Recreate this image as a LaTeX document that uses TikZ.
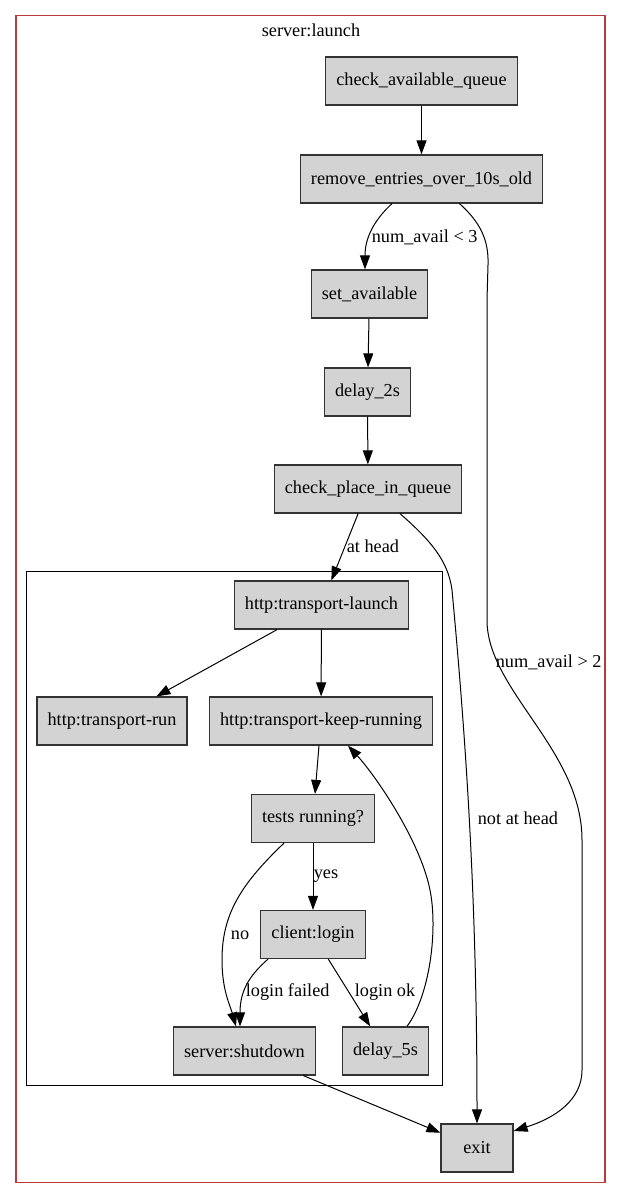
\documentclass[tikz,border=0pt]{standalone}
\usepackage{fontspec}
\setmainfont{Liberation Serif}
\usetikzlibrary{calc, arrows.meta}
\definecolor{boxgray}{RGB}{211,211,211}
\definecolor{clusterred}{RGB}{185,60,60}

\begin{document}
\begin{tikzpicture}[x=0.75pt, y=-0.75pt, >={Triangle[length=10.5pt, width=7.5pt]},
		state/.style={draw=black!80, fill=boxgray, rectangle, line width=0.9pt, minimum width=54pt, minimum height=36pt, inner xsep=8pt, font=\fontsize{13.7}{16}\selectfont},
		lbl/.style={font=\fontsize{13.7}{16}\selectfont, inner sep=1pt},
		edge/.style={->, line width=0.75pt}]
		\useasboundingbox (0,0) rectangle (621,1199);
		% clusters
		\draw[clusterred, line width=0.8pt] (16,15.5) rectangle (605,1182.5);
		\node[lbl] (title) at (311,30) {server:launch};
		\draw[line width=0.65pt] (26,571) rectangle (442,1085);
		% states
		\node[state] (cav) at (421.5, 81) {check\_available\_queue};
		\node[state] (rem) at (421.5, 179) {remove\_entries\_over\_10s\_old};
		\node[state] (setav) at (369.5, 294) {set\_available};
		\node[state] (delaytwo) at (367.5, 392) {delay\_2s};
		\node[state] (cpq) at (368, 489) {check\_place\_in\_queue};
		\node[state] (tlaunch) at (321.5, 605) {http:transport-launch};
		\node[state] (trun) at (112, 721) {http:transport-run};
		\node[state] (tkeep) at (321, 721) {http:transport-keep-running};
		\node[state] (tests) at (313, 818.5) {tests running?};
		\node[state] (login) at (313, 934.5) {client:login};
		\node[state] (shutdown) at (244.5, 1051) {server:shutdown};
		\node[state] (delayfive) at (385.5, 1051) {delay\_5s};
		\node[state] (exit) at (477, 1148) {exit};
		% transitions
		\draw[edge] (cav) -- (rem);
		\draw[edge] ($(rem.south)+(-29.5,0)$) .. controls (372,222) and (365,240) .. ($(setav.north)+(-4.5,0)$)
			node[lbl, anchor=west] (lessthree) at (370,237) {num\_avail < 3};
		\draw[edge] ($(rem.south)+(38,0)$) .. controls (480,222) and (489,240) .. (488,265) -- (487,300) -- (487,620)
			.. controls (487,690) and (582,750) .. (582,840) -- (582,1070)
			.. controls (582,1100) and (555,1118) .. ($(exit.east)+(0,-17)$)
			node[lbl, anchor=west] (moretwo) at (494,662) {num\_avail > 2};
		\draw[edge] (setav) -- (delaytwo);
		\draw[edge] (delaytwo) -- (cpq);
		\draw[edge] (cpq) -- (tlaunch) node[lbl, anchor=west] (athead) at (345,546) {at head};
		\draw[edge] ($(cpq.south)+(32,0)$) .. controls (430,540) and (448,560) .. (452,590)
			.. controls (466,740) and (477,900) .. (exit.north)
			node[lbl, anchor=west] (notathead) at (476,818) {not at head};
		\draw[edge] (tlaunch) -- (trun);
		\draw[edge] (tlaunch) -- (tkeep);
		\draw[edge] (tkeep) -- (tests);
		\draw[edge] (tests) -- (login) node[lbl, anchor=west] (yes) at (312,876) {yes};
		\draw[edge] ($(tests.south)+(-29,0)$) .. controls (240,885) and (222,915) .. (222,960)
			.. controls (222,990) and (230,1005) .. ($(shutdown.north)+(-8.5,0)$)
			node[lbl] (no) at (240,935) {no};
		\draw[edge] ($(login.south)+(-45,0)$) .. controls (250,975) and (240,990) .. ($(shutdown.north)+(-4.5,0)$)
			node[lbl, anchor=west] (failed) at (244,992) {login failed};
		\draw[edge] (login) -- (delayfive) node[lbl, anchor=west] (ok) at (353,992) {login ok};
		\draw[edge] ($(delayfive.north)+(21.5,0)$) .. controls (430,995) and (438,930) .. (430,890)
			.. controls (420,840) and (375,775) .. ($(tkeep.south)+(27,0)$);
		\draw[edge] (shutdown) -- (exit);
	\end{tikzpicture}
\end{document}
